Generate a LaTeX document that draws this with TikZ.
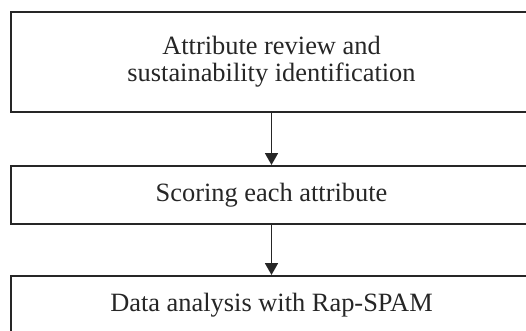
\documentclass[tikz,border=0pt]{standalone}
\usepackage{fontspec}
\setmainfont{Liberation Serif}
\usetikzlibrary{positioning,arrows.meta}

\tikzset{
  stepbox/.style={draw=black!85, line width=2pt, minimum width=521pt, minimum height=58pt,
    inner sep=0pt, align=center, text=black!85, font=\fontsize{26.4}{27}\selectfont},
  flow/.style={-{Triangle[length=12pt,width=13pt]}, line width=1.8pt, draw=black!85}
}

\begin{document}
\begin{tikzpicture}[x=1pt,y=-1pt]
	\useasboundingbox (0,0) rectangle (526,331);
	\clip (0,0) rectangle (526,331);
	
	% three steps, top to bottom
	\node[stepbox, minimum height=100pt] (review) at (271.5,62) {Attribute review and\\sustainability identification};
	\node[stepbox, below=52pt of review] (scoring) {Scoring each attribute};
	\node[stepbox, below=50pt of scoring] (analysis) {Data analysis with Rap-SPAM};
	
	\draw[flow] (review) -- (scoring);
	\draw[flow] (scoring) -- (analysis);
\end{tikzpicture}
\end{document}
